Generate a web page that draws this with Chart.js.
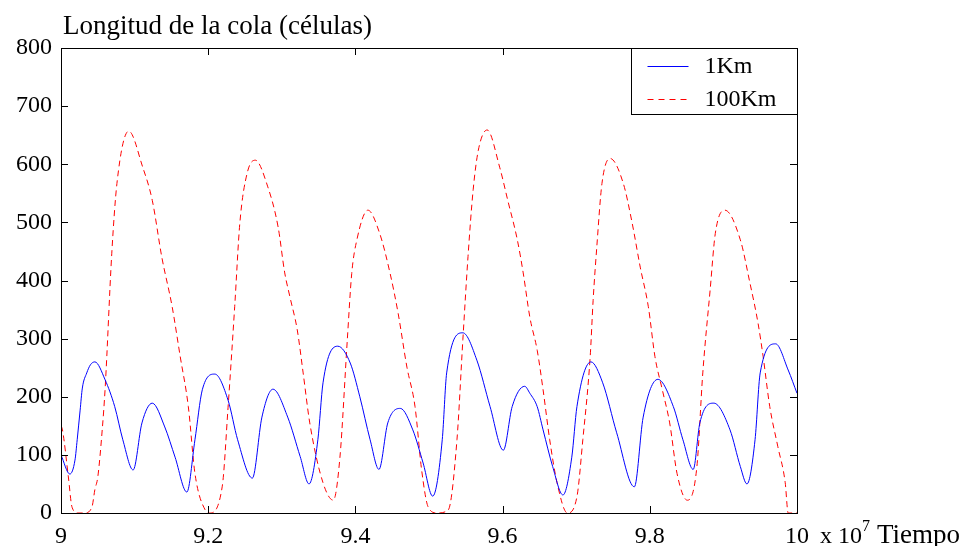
<!DOCTYPE html>
<html>
<head>
<meta charset="utf-8">
<script src="https://cdn.jsdelivr.net/npm/chart.js@4/dist/chart.umd.min.js"></script>
<style>
html,body{margin:0;padding:0;background:#fff;}
#wrap{width:971px;height:546px;}
</style>
</head>
<body>
<div id="wrap"><canvas id="c" width="971" height="546"></canvas></div>
<script>
// ---- data ----
const titleText = "Longitud de la cola (células)";
const xAxisText = "Tiempo";
const xTickLabels = [9, 9.2, 9.4, 9.6, 9.8, 10];
const yTickLabels = [0, 100, 200, 300, 400, 500, 600, 700, 800];
const seriesNames = ["1Km", "100Km"];

const blueX = [9.000,9.012,9.019,9.022,9.026,9.029,9.035,9.040,9.046,9.060,9.073,9.084,9.098,9.110,9.124,9.141,9.155,9.171,9.182,9.192,9.209,9.227,9.240,9.260,9.273,9.288,9.308,9.325,9.337,9.349,9.356,9.376,9.393,9.406,9.420,9.432,9.444,9.461,9.478,9.492,9.505,9.518,9.524,9.546,9.565,9.583,9.601,9.613,9.630,9.637,9.647,9.655,9.668,9.682,9.694,9.701,9.720,9.736,9.755,9.779,9.791,9.811,9.832,9.845,9.859,9.868,9.887,9.909,9.923,9.932,9.943,9.950,9.971,9.988,10.000];
const blueY = [100,67,91,126,177,215,241,255,260,229,183,126,74,155,189,148,96,36,126,212,239,194,126,60,165,213,165,97,50,126,224,287,258,200,126,75,155,180,143,86,29,126,241,310,263,183,108,183,218,206,183,143,80,31,96,183,260,224,138,45,165,230,183,126,75,155,189,143,80,50,126,241,291,246,206];

const redX = [9.000,9.002,9.010,9.015,9.023,9.032,9.042,9.046,9.050,9.056,9.060,9.069,9.076,9.092,9.111,9.124,9.137,9.151,9.162,9.173,9.182,9.196,9.202,9.219,9.227,9.236,9.243,9.253,9.264,9.281,9.295,9.304,9.311,9.321,9.329,9.338,9.356,9.370,9.379,9.389,9.395,9.402,9.417,9.433,9.447,9.458,9.470,9.481,9.490,9.499,9.511,9.526,9.538,9.546,9.553,9.560,9.567,9.579,9.596,9.607,9.620,9.628,9.637,9.647,9.655,9.664,9.674,9.688,9.701,9.709,9.719,9.723,9.728,9.735,9.746,9.764,9.776,9.787,9.798,9.807,9.817,9.827,9.837,9.851,9.864,9.872,9.882,9.889,9.902,9.923,9.936,9.947,9.954,9.963,9.974,9.984,9.988,10.000];
const redY = [150,143,62,10,0,0,10,40,62,143,215,447,567,657,595,538,440,355,269,183,68,5,0,45,182,355,499,585,607,561,492,413,372,315,241,155,52,22,96,298,412,470,521,481,413,344,251,183,74,10,0,5,126,298,441,556,624,659,595,538,470,413,337,280,212,126,52,0,28,126,269,366,458,567,610,567,499,423,355,269,212,155,68,22,80,241,384,481,521,470,396,327,269,183,114,52,0,0];

const toPts = (xs, ys) => xs.map((x, i) => ({x: x, y: ys[i]}));

const FONT = "'Liberation Serif', 'Times New Roman', serif";
const BLUE = "#0000ff";
const RED = "#ff0000";

const framePlugin = {
  id: 'frame',
  afterDraw(chart) {
    const ctx = chart.ctx;
    const a = chart.chartArea;
    const xs = chart.scales.x, ys = chart.scales.y;
    ctx.save();
    ctx.strokeStyle = '#000';
    ctx.lineWidth = 1;
    ctx.strokeRect(Math.round(a.left) + 0.5, Math.round(a.top) + 0.5, Math.round(a.right - a.left), Math.round(a.bottom - a.top));
    const tl = 7;
    ctx.beginPath();
    xTickLabels.forEach(v => {
      const px = Math.round(xs.getPixelForValue(v)) + 0.5;
      ctx.moveTo(px, a.bottom); ctx.lineTo(px, a.bottom - tl);
      ctx.moveTo(px, a.top); ctx.lineTo(px, a.top + tl);
    });
    yTickLabels.forEach(v => {
      const py = Math.round(ys.getPixelForValue(v)) + 0.5;
      ctx.moveTo(a.left, py); ctx.lineTo(a.left + tl, py);
      ctx.moveTo(a.right, py); ctx.lineTo(a.right - tl, py);
    });
    ctx.stroke();

    // title
    ctx.fillStyle = '#000';
    ctx.font = '27px ' + FONT;
    ctx.textBaseline = 'alphabetic';
    ctx.textAlign = 'left';
    ctx.fillText(titleText, a.left + 2, 34);

    // x axis label "x 10^7 Tiempo"
    const by = 543;
    let x0 = a.right + 23;
    ctx.font = '24px ' + FONT;
    ctx.fillText('x 10', x0, by);
    ctx.font = '16px ' + FONT;
    ctx.fillText('7', 862, by - 12);
    ctx.font = '27px ' + FONT;
    ctx.fillText(xAxisText, 877, by);

    // legend
    const lx = Math.round(xs.getPixelForValue(9.775)) + 0.5;
    const lt = Math.round(a.top) + 0.5;
    const lr = Math.round(a.right) + 0.5;
    const lb = lt + 66;
    ctx.fillStyle = '#fff';
    ctx.fillRect(lx, lt, lr - lx, lb - lt);
    ctx.strokeStyle = '#000';
    ctx.strokeRect(lx, lt, lr - lx, lb - lt);
    const items = [{c: BLUE, d: [], y: lt + 17}, {c: RED, d: [6, 5], y: lt + 50}];
    items.forEach((it, i) => {
      ctx.beginPath();
      ctx.strokeStyle = it.c;
      ctx.setLineDash(it.d);
      ctx.moveTo(lx + 16, Math.round(it.y) + 0.5);
      ctx.lineTo(lx + 57, Math.round(it.y) + 0.5);
      ctx.stroke();
      ctx.setLineDash([]);
      ctx.fillStyle = '#000';
      ctx.font = '24px ' + FONT;
      ctx.textBaseline = 'middle';
      ctx.fillText(seriesNames[i], lx + 73, it.y + 1);
    });
    ctx.restore();
  }
};

new Chart(document.getElementById('c'), {
  type: 'line',
  data: {
    datasets: [
      {label: seriesNames[0], data: toPts(blueX, blueY), borderColor: BLUE, borderWidth: 1, pointRadius: 0, fill: false, cubicInterpolationMode: 'monotone'},
      {label: seriesNames[1], data: toPts(redX, redY), borderColor: RED, borderWidth: 1, borderDash: [6, 4], pointRadius: 0, fill: false, cubicInterpolationMode: 'monotone'}
    ]
  },
  options: {
    responsive: false,
    animation: false,
    events: [],
    layout: {padding: {left: 0, right: 174, top: 48, bottom: 0}},
    plugins: {legend: {display: false}, tooltip: {enabled: false}, title: {display: false}},
    scales: {
      x: {
        type: 'linear', min: 9, max: 10,
        afterBuildTicks: s => { s.ticks = xTickLabels.map(v => ({value: v})); },
        afterFit: s => { s.height = 33; },
        grid: {display: false, drawTicks: false},
        border: {display: false},
        ticks: {color: '#000', font: {family: FONT, size: 24}, padding: 9, maxRotation: 0,
          callback: v => String(parseFloat(Number(v).toFixed(1)))}
      },
      y: {
        type: 'linear', min: 0, max: 800,
        afterBuildTicks: s => { s.ticks = yTickLabels.map(v => ({value: v})); },
        afterFit: s => { s.width = 61; },
        grid: {display: false, drawTicks: false},
        border: {display: false},
        ticks: {color: '#000', font: {family: FONT, size: 24}, padding: 9}
      }
    }
  },
  plugins: [framePlugin]
});
</script>
</body>
</html>
